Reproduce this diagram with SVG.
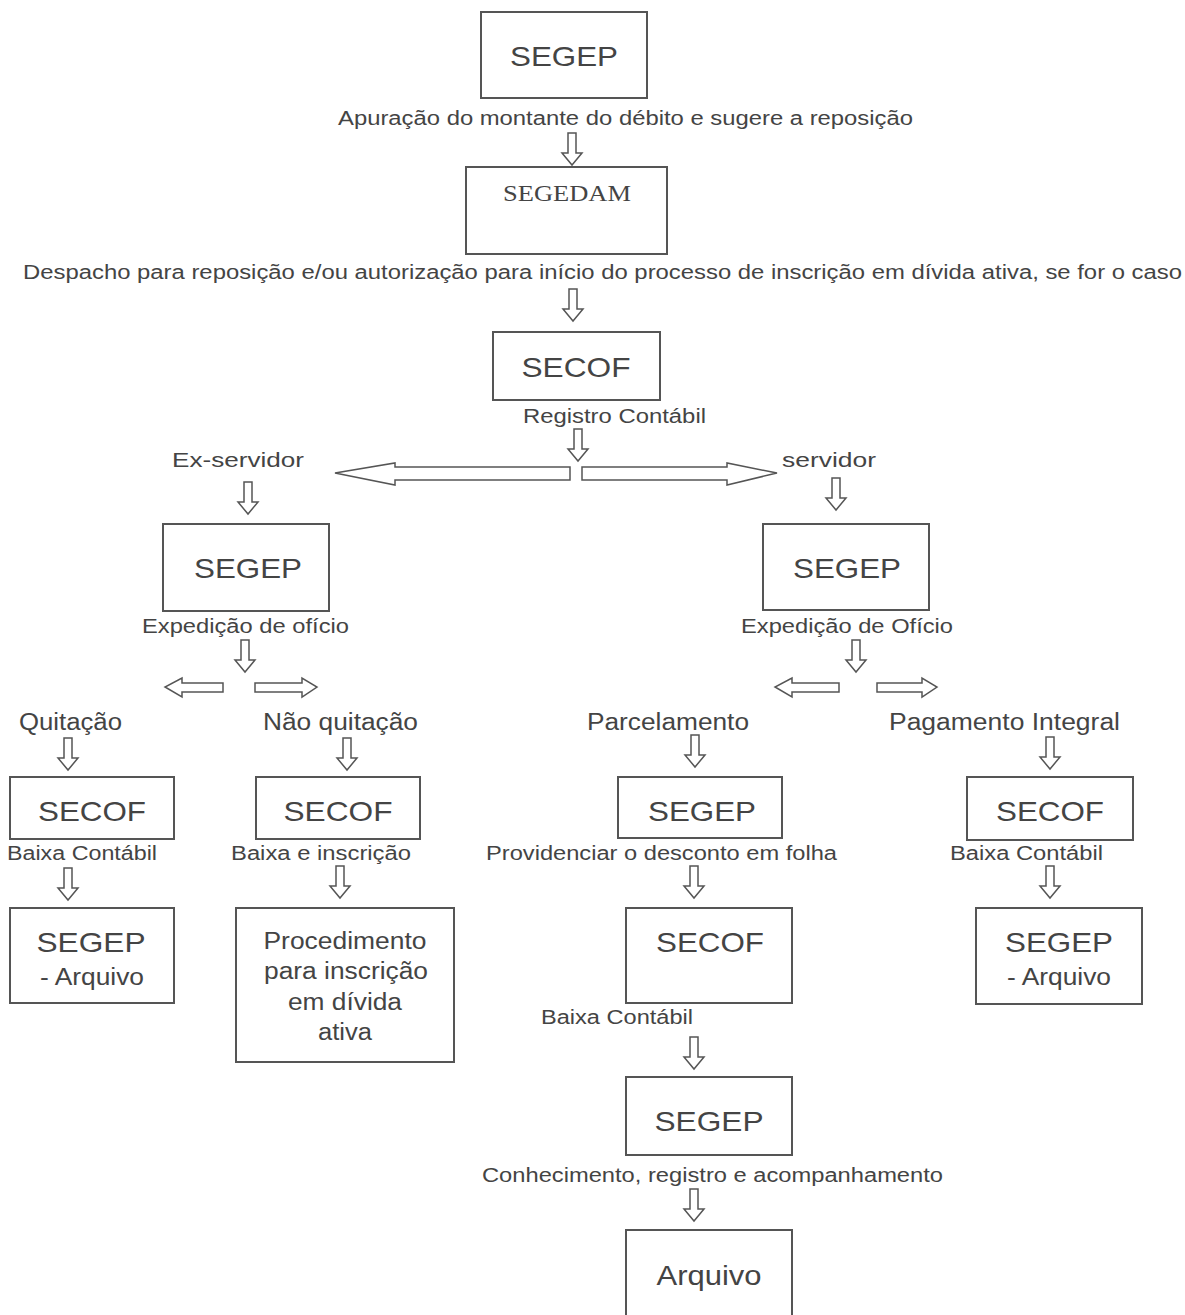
<svg xmlns="http://www.w3.org/2000/svg" xmlns:xlink="http://www.w3.org/1999/xlink" width="1185" height="1315" viewBox="0 0 1185 1315">
<style>
.box{fill:#fff;stroke:#555;stroke-width:2}
.arr{fill:#fff;stroke:#555;stroke-width:1.5;stroke-linejoin:miter}
text{font-family:"Liberation Sans",Arial,sans-serif;fill:#444}
.lbl{font-size:20px}
.lbl2{font-size:23px}
.ttl{font-size:28px;text-anchor:middle}
.sub{font-size:23px;text-anchor:middle}
.serif{font-family:"Liberation Serif","Times New Roman",serif;font-size:23px;text-anchor:middle}
</style>
<defs>
<path id="down" d="M-4,0 L4,0 L4,20 L10,20 L0,32 L-10,20 L-4,20 Z"/>
</defs>
<rect width="1185" height="1315" fill="#fff"/>
<g id="n-segep-top"><rect class="box" x="481" y="12" width="166" height="86"/><text class="ttl" x="564" y="66" textLength="108" lengthAdjust="spacingAndGlyphs">SEGEP</text></g>
<g id="n-segedam"><rect class="box" x="466" y="167" width="201" height="87"/><text class="serif" x="567" y="201" textLength="128" lengthAdjust="spacingAndGlyphs">SEGEDAM</text></g>
<g id="n-secof-1"><rect class="box" x="493" y="332" width="167" height="68"/><text class="ttl" x="576" y="377" textLength="109" lengthAdjust="spacingAndGlyphs">SECOF</text></g>
<g id="n-segep-left"><rect class="box" x="163" y="524" width="166" height="87"/><text class="ttl" x="248" y="578" textLength="108" lengthAdjust="spacingAndGlyphs">SEGEP</text></g>
<g id="n-segep-right"><rect class="box" x="763" y="524" width="166" height="86"/><text class="ttl" x="847" y="578" textLength="108" lengthAdjust="spacingAndGlyphs">SEGEP</text></g>
<g id="n-secof-quit"><rect class="box" x="10" y="777" width="164" height="62"/><text class="ttl" x="92" y="821" textLength="108" lengthAdjust="spacingAndGlyphs">SECOF</text></g>
<g id="n-secof-nao"><rect class="box" x="256" y="777" width="164" height="62"/><text class="ttl" x="338" y="821" textLength="109" lengthAdjust="spacingAndGlyphs">SECOF</text></g>
<g id="n-segep-parc"><rect class="box" x="618" y="777" width="164" height="61"/><text class="ttl" x="702" y="821" textLength="108" lengthAdjust="spacingAndGlyphs">SEGEP</text></g>
<g id="n-secof-pag"><rect class="box" x="967" y="777" width="166" height="63"/><text class="ttl" x="1050" y="821" textLength="108" lengthAdjust="spacingAndGlyphs">SECOF</text></g>
<g id="n-segep-arq-left"><rect class="box" x="10" y="908" width="164" height="95"/><text class="ttl" x="91" y="952" textLength="109" lengthAdjust="spacingAndGlyphs">SEGEP</text><text class="sub" x="92" y="985" textLength="104" lengthAdjust="spacingAndGlyphs">- Arquivo</text></g>
<g id="n-procedimento"><rect class="box" x="236" y="908" width="218" height="154"/><text class="sub" x="345" y="949" textLength="163" lengthAdjust="spacingAndGlyphs">Procedimento</text><text class="sub" x="346" y="979" textLength="164" lengthAdjust="spacingAndGlyphs">para inscrição</text><text class="sub" x="345" y="1010" textLength="114" lengthAdjust="spacingAndGlyphs">em dívida</text><text class="sub" x="345" y="1040" textLength="54" lengthAdjust="spacingAndGlyphs">ativa</text></g>
<g id="n-secof-mid"><rect class="box" x="626" y="908" width="166" height="95"/><text class="ttl" x="710" y="952" textLength="108" lengthAdjust="spacingAndGlyphs">SECOF</text></g>
<g id="n-segep-arq-right"><rect class="box" x="976" y="908" width="166" height="96"/><text class="ttl" x="1059" y="952" textLength="108" lengthAdjust="spacingAndGlyphs">SEGEP</text><text class="sub" x="1059" y="985" textLength="104" lengthAdjust="spacingAndGlyphs">- Arquivo</text></g>
<g id="n-segep-bottom"><rect class="box" x="626" y="1077" width="166" height="78"/><text class="ttl" x="709" y="1131" textLength="109" lengthAdjust="spacingAndGlyphs">SEGEP</text></g>
<g id="n-arquivo"><rect class="box" x="626" y="1230" width="166" height="90"/><text class="ttl" x="709" y="1285" textLength="105" lengthAdjust="spacingAndGlyphs">Arquivo</text></g>
<g id="labels">
<text class="lbl" x="338" y="125" textLength="575" lengthAdjust="spacingAndGlyphs">Apuração do montante do débito e sugere a reposição</text>
<text class="lbl" x="23" y="279" textLength="1159" lengthAdjust="spacingAndGlyphs">Despacho para reposição e/ou autorização para início do processo de inscrição em dívida ativa, se for o caso</text>
<text class="lbl" x="523" y="423" textLength="183" lengthAdjust="spacingAndGlyphs">Registro Contábil</text>
<text class="lbl" x="172" y="467" textLength="132" lengthAdjust="spacingAndGlyphs">Ex-servidor</text>
<text class="lbl" x="782" y="467" textLength="94" lengthAdjust="spacingAndGlyphs">servidor</text>
<text class="lbl" x="142" y="633" textLength="207" lengthAdjust="spacingAndGlyphs">Expedição de ofício</text>
<text class="lbl" x="741" y="633" textLength="212" lengthAdjust="spacingAndGlyphs">Expedição de Ofício</text>
<text class="lbl2" x="19" y="730" textLength="103" lengthAdjust="spacingAndGlyphs">Quitação</text>
<text class="lbl2" x="263" y="730" textLength="155" lengthAdjust="spacingAndGlyphs">Não quitação</text>
<text class="lbl2" x="587" y="730" textLength="162" lengthAdjust="spacingAndGlyphs">Parcelamento</text>
<text class="lbl2" x="889" y="730" textLength="231" lengthAdjust="spacingAndGlyphs">Pagamento Integral</text>
<text class="lbl" x="7" y="860" textLength="150" lengthAdjust="spacingAndGlyphs">Baixa Contábil</text>
<text class="lbl" x="231" y="860" textLength="180" lengthAdjust="spacingAndGlyphs">Baixa e inscrição</text>
<text class="lbl" x="486" y="860" textLength="351" lengthAdjust="spacingAndGlyphs">Providenciar o desconto em folha</text>
<text class="lbl" x="950" y="860" textLength="153" lengthAdjust="spacingAndGlyphs">Baixa Contábil</text>
<text class="lbl" x="541" y="1024" textLength="152" lengthAdjust="spacingAndGlyphs">Baixa Contábil</text>
<text class="lbl" x="482" y="1182" textLength="461" lengthAdjust="spacingAndGlyphs">Conhecimento, registro e acompanhamento</text>
</g>
<g id="connectors">
<use href="#down" class="arr" x="572" y="133"/>
<use href="#down" class="arr" x="573" y="289"/>
<use href="#down" class="arr" x="578" y="429"/>
<use href="#down" class="arr" x="248" y="482"/>
<use href="#down" class="arr" x="836" y="478"/>
<use href="#down" class="arr" x="245" y="640"/>
<use href="#down" class="arr" x="856" y="640"/>
<use href="#down" class="arr" x="68" y="738"/>
<use href="#down" class="arr" x="347" y="738"/>
<use href="#down" class="arr" x="695" y="735"/>
<use href="#down" class="arr" x="1050" y="737"/>
<use href="#down" class="arr" x="68" y="868"/>
<use href="#down" class="arr" x="340" y="866"/>
<use href="#down" class="arr" x="694" y="866"/>
<use href="#down" class="arr" x="1050" y="866"/>
<use href="#down" class="arr" x="694" y="1037"/>
<use href="#down" class="arr" x="694" y="1189"/>
<path class="arr" d="M570,467 L395,467 L395,463 L335,473 L395,485 L395,480 L570,480 Z"/>
<path class="arr" d="M582,467 L727,467 L727,463 L777,473 L727,485 L727,480 L582,480 Z"/>
<path class="arr" d="M223,683 L182,683 L182,678 L165,687 L182,697 L182,692 L223,692 Z"/>
<path class="arr" d="M255,683 L302,683 L302,678 L317,687 L302,697 L302,692 L255,692 Z"/>
<path class="arr" d="M839,683 L792,683 L792,678 L775,687 L792,697 L792,692 L839,692 Z"/>
<path class="arr" d="M877,683 L922,683 L922,678 L937,687 L922,697 L922,692 L877,692 Z"/>
</g>
</svg>
